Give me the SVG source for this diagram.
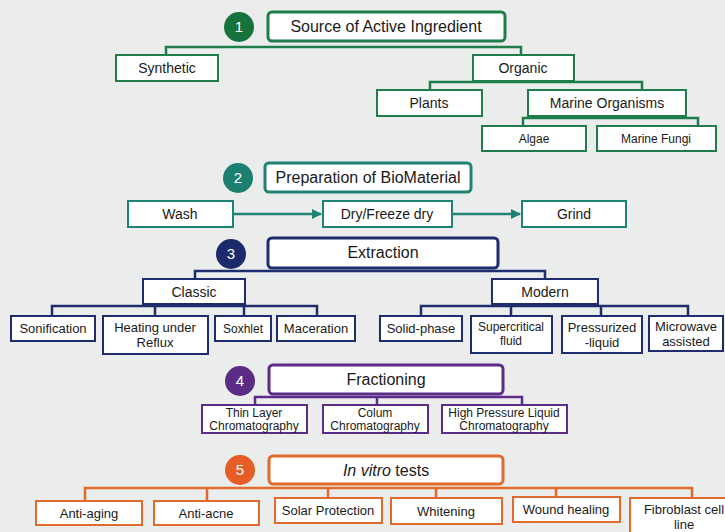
<svg xmlns="http://www.w3.org/2000/svg" width="725" height="532" viewBox="0 0 725 532">
<style>
text{font-family:"Liberation Sans",Arial,sans-serif;fill:#1a1a1a;text-anchor:middle}
.t{font-size:16px}
.c{font-size:15px;fill:#fff}
.s14{font-size:14px}.s13{font-size:13px}.s12{font-size:12px}
.box{fill:#fff;stroke-width:2}
.tb{fill:#fff;stroke-width:3}
.g1{stroke:#1f7d4c}.g2{stroke:#1f8274}.g3{stroke:#1f2d6e}.g4{stroke:#5c2d88}.g5{stroke:#e26a2c}
.ln{fill:none;stroke-width:2.5}
</style>
<defs>
<marker id="ah" viewBox="0 0 10 10" refX="9" refY="5" markerWidth="4" markerHeight="4" orient="auto"><path d="M0,0L10,5L0,10z" fill="#1f8274"/></marker>
</defs>
<rect width="725" height="532" fill="#ebecec"/>
<g id="connectors">
<path class="ln g1" d="M166,55V47H521V55M430,90V82H642V90M523,126V118H698V126"/>
<path class="ln g2" d="M233,214H321" marker-end="url(#ah)"/>
<path class="ln g2" d="M452,214H520" marker-end="url(#ah)"/>
<path class="ln g3" d="M195,279V271H545V279M52,316V306H317V316M155,306V316M244,306V316M421,316V306H688V316M511,306V316M601,306V316"/>
<path class="ln g4" d="M255,405V397H522V405M377,397V405"/>
<path class="ln g5" d="M85,501V488H692V498M207,488V501M328,488V498M436,488V498M556,488V497"/>
</g>
<g id="n1"><circle cx="239" cy="27" r="15" fill="#16733d"/><text class="c" x="239" y="32">1</text></g>
<g id="source"><rect class="tb g1" x="268" y="12" width="237" height="29" rx="4"/><text class="t" x="386" y="32">Source of Active Ingredient</text></g>
<g id="synthetic"><rect class="box g1" x="116" y="55" width="102" height="26"/><text class="s14" x="167" y="73">Synthetic</text></g>
<g id="organic"><rect class="box g1" x="473" y="55" width="101" height="26"/><text class="s14" x="523" y="73">Organic</text></g>
<g id="plants"><rect class="box g1" x="377" y="90" width="105" height="26"/><text class="s14" x="429" y="108">Plants</text></g>
<g id="marine"><rect class="box g1" x="528" y="90" width="158" height="26"/><text class="s14" x="607" y="108">Marine Organisms</text></g>
<g id="algae"><rect class="box g1" x="482" y="126" width="104" height="25"/><text class="s12" x="534" y="143">Algae</text></g>
<g id="fungi"><rect class="box g1" x="597" y="126" width="119" height="25"/><text class="s12" x="656" y="143">Marine Fungi</text></g>

<g id="n2"><circle cx="238" cy="178" r="15" fill="#1b8070"/><text class="c" x="238" y="183">2</text></g>
<g id="prep"><rect class="tb g2" x="265" y="163" width="206" height="29" rx="4"/><text class="t" x="368" y="183">Preparation of BioMaterial</text></g>
<g id="wash"><rect class="box g2" x="128" y="201" width="105" height="26"/><text class="s14" x="180" y="219">Wash</text></g>
<g id="dry"><rect class="box g2" x="323" y="201" width="129" height="26"/><text class="s14" x="387" y="219">Dry/Freeze dry</text></g>
<g id="grind"><rect class="box g2" x="522" y="201" width="104" height="26"/><text class="s14" x="574" y="219">Grind</text></g>

<g id="n3"><circle cx="231" cy="254" r="15" fill="#1c2a6b"/><text class="c" x="231" y="259">3</text></g>
<g id="extraction"><rect class="tb g3" x="268" y="238" width="230" height="30" rx="4"/><text class="t" x="383" y="258">Extraction</text></g>
<g id="classic"><rect class="box g3" x="143" y="279" width="102" height="25"/><text class="s14" x="194" y="297">Classic</text></g>
<g id="modern"><rect class="box g3" x="492" y="279" width="106" height="25"/><text class="s14" x="545" y="297">Modern</text></g>
<g id="sonification"><rect class="box g3" x="11" y="316" width="84" height="25"/><text class="s13" x="53" y="333">Sonification</text></g>
<g id="heating"><rect class="box g3" x="103" y="316" width="105" height="38"/><text class="s13" x="155" y="332">Heating under</text><text class="s13" x="155" y="347">Reflux</text></g>
<g id="soxhlet"><rect class="box g3" x="215" y="316" width="56" height="25"/><text class="s12" x="243" y="333">Soxhlet</text></g>
<g id="maceration"><rect class="box g3" x="277" y="316" width="78" height="25"/><text class="s13" x="316" y="333">Maceration</text></g>
<g id="solid"><rect class="box g3" x="380" y="316" width="82" height="25"/><text class="s13" x="421" y="333">Solid-phase</text></g>
<g id="supercritical"><rect class="box g3" x="471" y="316" width="81" height="37"/><text class="s12" x="511" y="331">Supercritical</text><text class="s12" x="511" y="345">fluid</text></g>
<g id="pressurized"><rect class="box g3" x="562" y="316" width="80" height="37"/><text class="s13" x="602" y="332">Pressurized</text><text class="s13" x="602" y="347">-liquid</text></g>
<g id="microwave"><rect class="box g3" x="649" y="316" width="74" height="35"/><text class="s13" x="686" y="331">Microwave</text><text class="s13" x="686" y="346">assisted</text></g>

<g id="n4"><circle cx="240" cy="381" r="15" fill="#5a2c86"/><text class="c" x="240" y="386">4</text></g>
<g id="fractioning"><rect class="tb g4" x="269" y="365" width="234" height="29" rx="4"/><text class="t" x="386" y="385">Fractioning</text></g>
<g id="tlc"><rect class="box g4" x="202" y="405" width="105" height="28"/><text class="s12" x="254" y="417">Thin Layer</text><text class="s12" x="254" y="430">Chromatography</text></g>
<g id="colum"><rect class="box g4" x="323" y="405" width="105" height="28"/><text class="s12" x="375" y="417">Colum</text><text class="s12" x="375" y="430">Chromatography</text></g>
<g id="hplc"><rect class="box g4" x="442" y="405" width="125" height="28"/><text class="s12" x="504" y="417">High Pressure Liquid</text><text class="s12" x="504" y="430">Chromatography</text></g>

<g id="n5"><circle cx="240" cy="470" r="15" fill="#e65e26"/><text class="c" x="240" y="475">5</text></g>
<g id="invitro"><rect class="tb g5" x="269" y="456" width="234" height="28" rx="4"/><text class="t" x="386" y="476"><tspan font-style="italic">In vitro</tspan> tests</text></g>
<g id="antiaging"><rect class="box g5" x="36" y="501" width="106" height="24"/><text class="s13" x="89" y="518">Anti-aging</text></g>
<g id="antiacne"><rect class="box g5" x="154" y="501" width="105" height="24"/><text class="s13" x="206" y="518">Anti-acne</text></g>
<g id="solar"><rect class="box g5" x="275" y="498" width="107" height="25"/><text class="s13" x="328" y="515">Solar Protection</text></g>
<g id="whitening"><rect class="box g5" x="391" y="498" width="111" height="26"/><text class="s13" x="446" y="516">Whitening</text></g>
<g id="wound"><rect class="box g5" x="513" y="497" width="107" height="25"/><text class="s13" x="566" y="514">Wound healing</text></g>
<g id="fibroblast"><rect class="box g5" x="630" y="498" width="110" height="45"/><text class="s13" x="684" y="514">Fibroblast cell</text><text class="s13" x="684" y="529">line</text></g>
</svg>
